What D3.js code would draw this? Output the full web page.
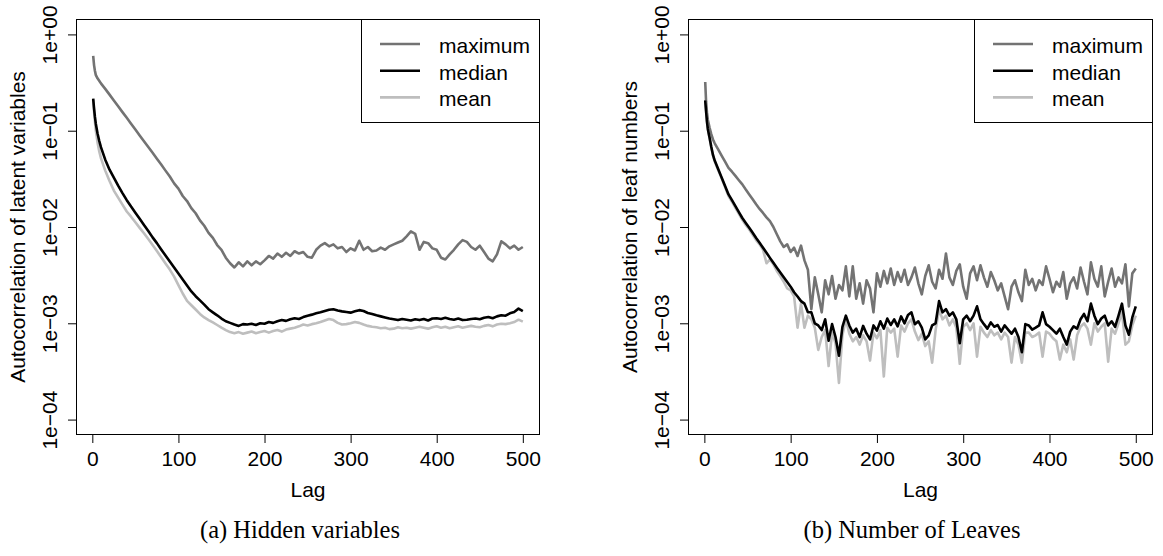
<!DOCTYPE html>
<html>
<head>
<meta charset="utf-8">
<script src="https://cdn.jsdelivr.net/npm/d3@7"></script>
<style>
  html, body { margin: 0; padding: 0; background: #fff; }
  svg { display: block; }
</style>
</head>
<body>
<svg id="chart" width="1163" height="556"></svg>
<script>
// ---------------- DATA ----------------
const seriesNames = ["maximum", "median", "mean"];
const xTicks = [0, 100, 200, 300, 400, 500];
const yTicks = [1, 1e-1, 1e-2, 1e-3, 1e-4];
const yTickLabels = ["1e+00", "1e\u221201", "1e\u221202", "1e\u221203", "1e\u221204"];

// (a) Hidden variables
const lagsA = [1, 2, 3, 4, 6, 8].concat(d3.range(10, 501, 5));
const maxA = [0.60,0.48,0.42,0.38,0.35,0.33,
  0.31,0.272,0.237,0.206,0.179,0.156,0.136,0.118,0.103,0.0893,
  0.0778,0.0676,0.0589,0.0512,0.0446,0.0385,0.0334,0.0284,0.0250,0.0210,
  0.0186,0.0157,0.0139,0.0117,0.0103,0.0087,0.0077,0.0065,0.0058,0.0048,
  0.0042,0.0038,0.0043,0.0039,0.0044,0.0040,0.0044,0.0041,0.0045,0.0050,
  0.0047,0.0053,0.0049,0.0054,0.0050,0.0056,0.0053,0.0055,0.0049,0.0048,
  0.0058,0.0064,0.0068,0.0063,0.0066,0.0060,0.0062,0.0055,0.0060,0.0057,
  0.0072,0.0058,0.0062,0.0056,0.0057,0.0061,0.0058,0.0063,0.0066,0.0069,
  0.0072,0.0080,0.0090,0.0085,0.0058,0.0070,0.0068,0.0060,0.0058,0.0048,
  0.0046,0.0052,0.0058,0.0066,0.0073,0.0070,0.0062,0.0058,0.0064,0.0055,
  0.0047,0.0044,0.0052,0.0071,0.0066,0.0060,0.0064,0.0058,0.0062];
const medianA = [0.215,0.171,0.14,0.119,0.094,0.0787,
  0.0675,0.050,0.0394,0.0326,0.0269,0.0225,0.019,0.0163,0.0141,0.0122,
  0.0105,0.0091,0.0078,0.0068,0.00585,0.00506,0.00438,0.00379,0.00329,0.00285,
  0.00247,0.00214,0.00191,0.00173,0.00156,0.0014,0.0013,0.00121,0.00112,0.00105,
  0.00101,0.00097,0.00094,0.00098,0.00097,0.00099,0.00096,0.001,0.00099,0.00103,
  0.00101,0.00105,0.00108,0.00106,0.0011,0.00113,0.00111,0.00116,0.0012,0.00123,
  0.00127,0.0013,0.00134,0.00138,0.0014,0.00136,0.00133,0.00131,0.00129,0.00133,
  0.00137,0.00134,0.00128,0.00125,0.00121,0.00118,0.00115,0.00112,0.0011,0.00108,
  0.00111,0.00109,0.00107,0.0011,0.00108,0.00111,0.00107,0.00112,0.00113,0.00111,
  0.00114,0.00111,0.00109,0.00112,0.00108,0.00109,0.00111,0.00112,0.0011,0.00114,
  0.00116,0.00113,0.00118,0.00121,0.0012,0.00127,0.00131,0.00142,0.00134];
const meanA = [0.21,0.16,0.125,0.101,0.076,0.0613,
  0.0519,0.0385,0.030,0.0239,0.0202,0.0171,0.0145,0.0128,0.0112,0.0098,
  0.0086,0.0075,0.00651,0.00562,0.00485,0.00419,0.00361,0.00305,0.00249,0.00204,
  0.00171,0.00154,0.00139,0.00125,0.00115,0.00108,0.00102,0.00096,0.0009,0.00085,
  0.00081,0.00079,0.00081,0.00078,0.0008,0.00082,0.00079,0.00081,0.00083,0.0008,
  0.00083,0.00085,0.00082,0.00086,0.00088,0.0009,0.00093,0.00097,0.00095,0.00098,
  0.001,0.00103,0.00107,0.00111,0.00108,0.00101,0.00097,0.00098,0.001,0.00103,
  0.00101,0.00097,0.00094,0.00092,0.00091,0.00089,0.0009,0.00087,0.00088,0.00091,
  0.00089,0.0009,0.00088,0.0009,0.00092,0.0009,0.00088,0.00091,0.00093,0.0009,
  0.00092,0.00089,0.00091,0.00093,0.0009,0.00092,0.00094,0.00092,0.00091,0.00094,
  0.00096,0.00093,0.00097,0.00099,0.00098,0.001,0.00103,0.00109,0.00104];

// (b) Number of Leaves
const lagsB = [1, 2, 3, 4, 5, 6, 8, 10].concat(d3.range(12, 501, 4));
const maxB = [0.32,0.20,0.155,0.13,0.119,0.108,0.092,0.081,
  0.074,0.064,0.0552,0.0477,0.0412,0.0375,0.0339,0.0306,0.0277,0.0245,
  0.0218,0.0194,0.0172,0.0154,0.014,0.0126,0.0115,0.01,0.0084,0.0071,
  0.0062,0.0066,0.0055,0.0061,0.0050,0.0064,0.0045,0.0036,0.0014,0.0030,
  0.0020,0.0013,0.0028,0.0020,0.0031,0.0018,0.0025,0.0022,0.0039,0.0019,
  0.0039,0.0018,0.0026,0.0016,0.0028,0.0023,0.0013,0.0033,0.0024,0.0035,
  0.0026,0.0037,0.0025,0.0034,0.0027,0.0036,0.0025,0.0030,0.0038,0.0026,
  0.0020,0.0031,0.0040,0.0027,0.0023,0.0036,0.0029,0.0053,0.0030,0.0025,
  0.0035,0.0041,0.0024,0.0018,0.0033,0.0039,0.0028,0.0040,0.0030,0.0024,
  0.0034,0.0028,0.0022,0.0026,0.0019,0.0014,0.0024,0.0028,0.0021,0.0017,
  0.0036,0.0025,0.0029,0.0022,0.0028,0.0025,0.0039,0.0029,0.0021,0.0027,
  0.0024,0.0034,0.0018,0.0026,0.0030,0.0023,0.0038,0.0027,0.0020,0.0043,
  0.0029,0.0024,0.0039,0.0019,0.0027,0.0037,0.0024,0.0030,0.0026,0.0041,
  0.0015,0.0033,0.0037];
const medianB = [0.207,0.16,0.125,0.105,0.094,0.085,0.068,0.056,
  0.049,0.040,0.0327,0.0267,0.0218,0.019,0.0165,0.0143,0.0124,0.011,
  0.0098,0.0087,0.0077,0.00687,0.00608,0.0054,0.00478,0.00425,0.00378,0.00337,
  0.0030,0.00268,0.0024,0.0021,0.0019,0.0017,0.0016,0.0013,0.0013,0.0010,
  0.00095,0.00085,0.0011,0.00066,0.00098,0.00072,0.00046,0.00092,0.0012,0.00095,
  0.0008,0.00088,0.00072,0.00094,0.00078,0.00068,0.00095,0.00084,0.00105,0.00088,
  0.00112,0.00096,0.0011,0.00093,0.00118,0.001,0.00122,0.0013,0.00098,0.00105,
  0.0009,0.00068,0.00075,0.00095,0.001,0.0017,0.0013,0.0014,0.0012,0.0013,
  0.0011,0.00062,0.0011,0.0012,0.00105,0.0012,0.0015,0.0011,0.00098,0.00088,
  0.00102,0.00092,0.00096,0.00082,0.00095,0.00086,0.00078,0.00088,0.00072,0.0005,
  0.00098,0.00095,0.00086,0.0009,0.00095,0.0013,0.00098,0.00092,0.00085,0.00078,
  0.00088,0.00072,0.0006,0.00082,0.00093,0.00088,0.0011,0.00125,0.00105,0.0016,
  0.0012,0.00098,0.00112,0.0012,0.00095,0.00105,0.00092,0.0012,0.0016,0.00095,
  0.00076,0.00115,0.0015];
const meanB = [0.207,0.16,0.125,0.104,0.093,0.084,0.067,0.055,
  0.048,0.039,0.032,0.026,0.021,0.0183,0.0158,0.0137,0.0119,0.0105,
  0.0094,0.0083,0.0073,0.0066,0.0058,0.0042,0.0046,0.0041,0.0035,0.0031,
  0.0027,0.0023,0.0022,0.0019,0.0009,0.0016,0.0009,0.0012,0.0011,0.0009,
  0.00053,0.00072,0.00085,0.00036,0.0008,0.00062,0.00024,0.00075,0.0011,0.00078,
  0.00065,0.00072,0.0006,0.00075,0.00065,0.00041,0.0008,0.0007,0.00085,0.00028,
  0.0009,0.0008,0.00088,0.00045,0.00095,0.00082,0.001,0.0011,0.00082,0.00067,
  0.00078,0.00058,0.00065,0.00039,0.00085,0.0014,0.0011,0.0012,0.00095,0.0011,
  0.0009,0.00038,0.00092,0.001,0.00085,0.001,0.00045,0.00092,0.0008,0.00072,
  0.00085,0.00075,0.0008,0.00068,0.0008,0.00072,0.00039,0.00072,0.0006,0.00039,
  0.0008,0.0008,0.00072,0.00075,0.0008,0.00045,0.00082,0.00078,0.0007,0.00065,
  0.00042,0.0006,0.0005,0.00068,0.00042,0.00075,0.00092,0.001,0.00088,0.0006,
  0.001,0.00082,0.00092,0.001,0.0004,0.00088,0.00078,0.001,0.0013,0.0006,
  0.00065,0.00095,0.0012];

// ---------------- DRAWING ----------------
const colors = { maximum: "#737373", median: "#000000", mean: "#bebebe" };
const svg = d3.select("#chart");
svg.append("rect").attr("width", 1163).attr("height", 556).attr("fill", "#fff");

const SANS = "'Liberation Sans', Arial, Helvetica, sans-serif";
const SERIF = "'Liberation Serif', 'Times New Roman', serif";

const panels = [
  { x0: 76, x1: 540, capX: 300, lags: lagsA, data: { maximum: maxA, median: medianA, mean: meanA },
    ylab: "Autocorrelation of latent variables", caption: "(a) Hidden variables" },
  { x0: 688, x1: 1153, capX: 912, lags: lagsB, data: { maximum: maxB, median: medianB, mean: meanB },
    ylab: "Autocorrelation of leaf numbers", caption: "(b) Number of Leaves" }
];
const plotTop = 19, plotBottom = 435;

panels.forEach(p => {
  const g = svg.append("g");
  // R-style 4% axis extension
  const xr = d3.extent(p.lags);
  const xpad = (xr[1] - xr[0]) * 0.04;
  const x = d3.scaleLinear().domain([xr[0] - xpad, xr[1] + xpad]).range([p.x0, p.x1]);
  const lo = -4, hi = 0, ypad = (hi - lo) * 0.04;
  const y = d3.scaleLog().domain([Math.pow(10, lo - ypad), Math.pow(10, hi + ypad)]).range([plotBottom, plotTop]);

  // series
  const order = ["maximum", "mean", "median"];
  order.forEach(name => {
    const vals = p.data[name];
    const line = d3.line().x((d, i) => x(p.lags[i])).y(d => y(d));
    g.append("path")
      .attr("d", line(vals))
      .attr("fill", "none")
      .attr("stroke", colors[name])
      .attr("stroke-width", 2.6)
      .attr("stroke-linejoin", "round")
      .attr("stroke-linecap", "butt");
  });

  // x axis
  const xAxis = d3.axisBottom(x).tickValues(xTicks).tickSize(8).tickPadding(5).tickFormat(d3.format("d"));
  const gx = g.append("g").attr("transform", `translate(0,${plotBottom})`).call(xAxis);
  gx.select(".domain").remove();
  gx.selectAll("line").attr("stroke", "#000").attr("stroke-width", 1);
  gx.selectAll("text").attr("font-family", SANS).attr("font-size", 21).attr("fill", "#000")
    .attr("dy", null).attr("y", 31);

  // y axis
  const yAxis = d3.axisLeft(y).tickValues(yTicks).tickSize(8)
    .tickFormat((d, i) => yTickLabels[i]);
  const gy = g.append("g").attr("transform", `translate(${p.x0},0)`).call(yAxis);
  gy.select(".domain").remove();
  gy.selectAll("line").attr("stroke", "#000").attr("stroke-width", 1);
  gy.selectAll("text")
    .attr("font-family", SANS).attr("font-size", 21).attr("fill", "#000")
    .attr("x", null).attr("dy", null)
    .attr("text-anchor", "middle")
    .attr("transform", "translate(-19,0) rotate(-90)")
    .attr("y", 0);

  // box
  g.append("rect")
    .attr("x", p.x0 + 0.5).attr("y", plotTop + 0.5)
    .attr("width", p.x1 - p.x0 - 1).attr("height", plotBottom - plotTop - 1)
    .attr("fill", "none").attr("stroke", "#000").attr("stroke-width", 1);

  // axis titles
  g.append("text")
    .attr("x", (p.x0 + p.x1) / 2).attr("y", 497)
    .attr("text-anchor", "middle").attr("font-family", SANS).attr("font-size", 21)
    .text("Lag");
  g.append("text")
    .attr("transform", `translate(${p.x0 - 51},${(plotTop + plotBottom) / 2}) rotate(-90)`)
    .attr("text-anchor", "middle").attr("font-family", SANS).attr("font-size", 21)
    .text(p.ylab);

  // caption
  g.append("text")
    .attr("x", p.capX).attr("y", 538)
    .attr("text-anchor", "middle").attr("font-family", SERIF).attr("font-size", 24.5)
    .text(p.caption);

  // legend
  const lgW = 179, lgH = 103;
  const lx = p.x1 - lgW;
  const lg = g.append("g");
  lg.append("rect")
    .attr("x", lx + 0.5).attr("y", plotTop + 0.5)
    .attr("width", lgW - 1).attr("height", lgH)
    .attr("fill", "#fff").attr("stroke", "#000").attr("stroke-width", 1);
  seriesNames.forEach((name, i) => {
    const ly = 44 + i * 26.7;
    lg.append("line")
      .attr("x1", lx + 19).attr("x2", lx + 59)
      .attr("y1", ly).attr("y2", ly)
      .attr("stroke", colors[name]).attr("stroke-width", 2.6);
    lg.append("text")
      .attr("x", lx + 78).attr("y", ly + 9)
      .attr("font-family", SANS).attr("font-size", 21).attr("fill", "#000")
      .text(name);
  });
});
</script>
</body>
</html>
